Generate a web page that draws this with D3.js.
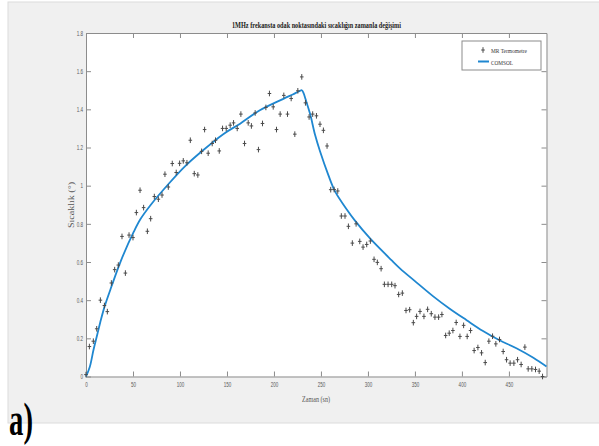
<!DOCTYPE html>
<html>
<head>
<meta charset="utf-8">
<script src="https://cdn.jsdelivr.net/npm/d3@7"></script>
<style>
  body { margin: 0; background: #fff; }
  svg { display: block; }
</style>
</head>
<body>
<div id="chart"></div>
<script>
// Data.
const mrTime = [0, 3.6, 7.8, 11.4, 15.3, 19.6, 22.7, 27, 30.5, 34.4, 38.3, 41.9, 45.8, 50, 53.6, 57.5,
  61.3, 65.3, 68.8, 72.7, 77, 80.9, 84, 87.6, 91.8, 96, 99.6, 103.5, 107.4, 111, 115.2, 119,
  123, 126.2, 130, 134.3, 137.8, 141.8, 145.3, 149.2, 153.4, 157, 160.9, 164.8, 168.7, 172.6,
  176, 180, 183.5, 187.8, 191.4, 195.2, 199.2, 202.7, 206.6, 210.5, 214.4, 218.3, 222.2, 225.4,
  229.6, 233.5, 237.4, 241.2, 245.2, 249, 252.6, 256.5, 260.4, 264, 267.9, 271.7, 275.6, 279.2,
  283.4, 287.4, 291.3, 294.8, 298.7, 302.6, 306.5, 310, 314, 317.5, 321.4, 325.3, 328.8, 332.7,
  336.6, 340.5, 344.4, 348.3, 351.8, 355.4, 359.6, 363.5, 367.4, 371.3, 375.2, 378.7, 382.7,
  386.5, 390.4, 393.9, 397.9, 401.8, 405.6, 409.2, 413, 417, 420.9, 424.8, 428.7, 432.6, 436.1,
  440, 443.9, 447.5, 451.3, 455.3, 459.2, 463, 467, 470.5, 474.4, 478.3, 482.2, 485.8];
const mrTemp = [0.01, 0.157, 0.185, 0.25, 0.40, 0.372, 0.34, 0.49, 0.56, 0.584, 0.734, 0.542, 0.741, 0.728, 0.859, 0.976,
  0.885, 0.761, 0.827, 0.943, 0.929, 0.951, 1.06, 0.993, 1.116, 1.069, 1.117, 1.13, 1.12, 1.238, 1.063, 1.056,
  1.18, 1.294, 1.17, 1.221, 1.238, 1.182, 1.30, 1.30, 1.317, 1.329, 1.30, 1.375, 1.221, 1.329,
  1.313, 1.381, 1.189, 1.326, 1.41, 1.483, 1.413, 1.294, 1.375, 1.473, 1.375, 1.457, 1.27, 1.497,
  1.57, 1.434, 1.36, 1.375, 1.366, 1.322, 1.29, 1.208, 0.979, 0.98, 0.972, 0.841, 0.841, 0.787,
  0.699, 0.80, 0.708, 0.678, 0.692, 0.71, 0.614, 0.598, 0.565, 0.483, 0.483, 0.483, 0.476, 0.43,
  0.437, 0.346, 0.35, 0.282, 0.315, 0.341, 0.315, 0.352, 0.329, 0.311, 0.311, 0.325, 0.215,
  0.227, 0.241, 0.283, 0.21, 0.268, 0.21, 0.241, 0.136, 0.152, 0.124, 0.073, 0.185, 0.211, 0.171,
  0.194, 0.131, 0.088, 0.07, 0.07, 0.088, 0.063, 0.154, 0.04, 0.04, 0.037, 0.028, 0.0];

const comsolTime = [0, 4, 8, 12, 16, 20, 27, 37, 51, 58, 69, 88, 105, 122, 146, 164, 185, 210, 220, 227, 229.6,
  231.5, 233.5, 238.5, 243.8, 249, 257.9, 265, 277.5, 286, 302, 325, 334, 350, 369.5, 387, 405,
  422, 440, 458, 476, 490];
const comsolTemp = [0, 0.05, 0.14, 0.22, 0.30, 0.37, 0.47, 0.605, 0.76, 0.825, 0.9, 1.01, 1.10, 1.175, 1.27, 1.325, 1.395, 1.455, 1.478, 1.495, 1.50,
  1.485, 1.455, 1.375, 1.265, 1.18, 1.055, 0.97, 0.875, 0.818, 0.725, 0.61, 0.567, 0.50, 0.42, 0.355, 0.295,
  0.24, 0.19, 0.148, 0.098, 0.052];

const xTicks = [0, 50, 100, 150, 200, 250, 300, 350, 400, 450];
const yTicks = [0, 0.2, 0.4, 0.6, 0.8, 1, 1.2, 1.4, 1.6, 1.8];
const seriesNames = ['MR Termometre', 'COMSOL'];

// SVG constants.
const width = 599;
const height = 446;
const plotLeft = 86, plotRight = 546.5, plotTop = 33, plotBottom = 376.5;
const squeeze = 0.65;

const svg = d3.select('#chart')
  .append('svg')
  .attr('width', width)
  .attr('height', height);

// Grey figure panel.
svg.append('rect')
  .attr('x', 8).attr('y', 2)
  .attr('width', 600).attr('height', 421)
  .attr('fill', '#f0f0f0')
  .attr('stroke', '#dcdcdc');

// Scales.
const x = d3.scaleLinear().domain([0, 490]).range([plotLeft, plotRight]);
const y = d3.scaleLinear().domain([0, 1.8]).range([plotBottom, plotTop]);

svg.append('rect')
  .attr('x', plotLeft).attr('y', plotTop)
  .attr('width', plotRight - plotLeft).attr('height', plotBottom - plotTop)
  .attr('fill', '#fff');

// Axes, ticks pointing inward on all four sides.
function styleAxis(g) {
  g.select('.domain').attr('stroke', '#8c8c8c');
  g.selectAll('.tick line').attr('stroke', '#8c8c8c');
  g.selectAll('.tick text')
    .attr('fill', '#5a5a5a')
    .style('font-family', 'Liberation Sans, Arial, sans-serif')
    .style('font-size', '7px');
}

const xAxis = svg.append('g')
  .attr('transform', 'translate(0,' + plotBottom + ')')
  .call(d3.axisBottom(x).tickValues(xTicks).tickSizeInner(-5).tickSizeOuter(0).tickPadding(9).tickFormat(d => d))
  .call(styleAxis);
xAxis.selectAll('.tick text').attr('transform', 'scale(' + squeeze + ',1)').attr('dy', '0.2em');

const yAxis = svg.append('g')
  .attr('transform', 'translate(' + plotLeft + ',0)')
  .call(d3.axisLeft(y).tickValues(yTicks).tickSizeInner(-5).tickSizeOuter(0).tickPadding(3).tickFormat(d => d))
  .call(styleAxis);
yAxis.selectAll('.tick text').attr('x', -3 / squeeze).attr('transform', 'scale(' + squeeze + ',1)');

svg.append('g')
  .attr('transform', 'translate(0,' + plotTop + ')')
  .call(d3.axisTop(x).tickValues(xTicks).tickSizeInner(-5).tickSizeOuter(0).tickFormat(''))
  .call(styleAxis);

svg.append('g')
  .attr('transform', 'translate(' + plotRight + ',0)')
  .call(d3.axisRight(y).tickValues(yTicks).tickSizeInner(-5).tickSizeOuter(0).tickFormat(''))
  .call(styleAxis);

// COMSOL curve.
const line = d3.line()
  .x(d => x(d[0]))
  .y(d => y(d[1]))
  .curve(d3.curveCatmullRom.alpha(0.5));

svg.append('path')
  .datum(d3.zip(comsolTime, comsolTemp))
  .attr('fill', 'none')
  .attr('stroke', '#1f87d0')
  .attr('stroke-width', 1.8)
  .attr('d', line);

// MR thermometry markers.
const plus = 'M0,-2.8V2.8M-1.8,0H1.8';
svg.append('g')
  .selectAll('path')
  .data(d3.zip(mrTime, mrTemp))
  .enter()
  .append('path')
  .attr('transform', d => 'translate(' + x(d[0]) + ',' + y(d[1]) + ')')
  .attr('d', plus)
  .attr('stroke', '#4a4a4a')
  .attr('stroke-width', 1)
  .attr('fill', 'none');

// Titles.
svg.append('text')
  .attr('x', 316.5).attr('y', 28)
  .attr('text-anchor', 'middle')
  .attr('textLength', 169).attr('lengthAdjust', 'spacingAndGlyphs')
  .style('font-family', 'Liberation Serif, Times New Roman, serif')
  .style('font-weight', 'bold')
  .style('font-size', '8.5px')
  .attr('fill', '#222')
  .text('1MHz frekansta odak noktasındaki sıcaklığın zamanla değişimi');

svg.append('text')
  .attr('x', 316).attr('y', 402)
  .attr('text-anchor', 'middle')
  .attr('textLength', 28).attr('lengthAdjust', 'spacingAndGlyphs')
  .style('font-family', 'Liberation Serif, Times New Roman, serif')
  .style('font-size', '8px')
  .attr('fill', '#555')
  .text('Zaman (sn)');

svg.append('text')
  .attr('transform', 'translate(74,205) rotate(-90)')
  .attr('text-anchor', 'middle')
  .attr('textLength', 46).attr('lengthAdjust', 'spacingAndGlyphs')
  .style('font-family', 'Liberation Serif, Times New Roman, serif')
  .style('font-size', '8px')
  .attr('fill', '#555')
  .text('Sıcaklık (°)');

// Legend.
const legend = svg.append('g').attr('id', 'legend');
legend.append('rect')
  .attr('x', 462).attr('y', 41)
  .attr('width', 79).attr('height', 29)
  .attr('fill', '#fff')
  .attr('stroke', '#8c8c8c');
legend.append('path')
  .attr('transform', 'translate(483,50)')
  .attr('d', plus)
  .attr('stroke', '#4a4a4a')
  .attr('fill', 'none');
legend.append('line')
  .attr('x1', 478).attr('x2', 489)
  .attr('y1', 61.5).attr('y2', 61.5)
  .attr('stroke', '#1f87d0')
  .attr('stroke-width', 2);
legend.selectAll('text')
  .data(seriesNames)
  .enter()
  .append('text')
  .attr('x', 491)
  .attr('y', (d, i) => 52.5 + i * 12)
  .attr('textLength', (d, i) => i === 0 ? 36 : 22)
  .attr('lengthAdjust', 'spacingAndGlyphs')
  .style('font-family', 'Liberation Serif, Times New Roman, serif')
  .style('font-size', '7px')
  .attr('fill', '#333')
  .text(d => d);

// Panel label.
svg.append('text')
  .attr('x', 9).attr('y', 435)
  .attr('textLength', 24).attr('lengthAdjust', 'spacingAndGlyphs')
  .style('font-family', 'Liberation Serif, Times New Roman, serif')
  .style('font-weight', 'bold')
  .style('font-size', '46px')
  .attr('fill', '#000')
  .text('a)');
</script>
</body>
</html>
